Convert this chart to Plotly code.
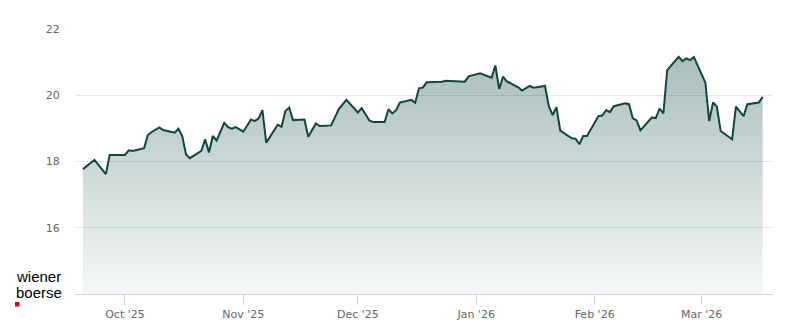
import plotly.graph_objects as go

dates = [
    "2025-09-20", "2025-09-23", "2025-09-26", "2025-09-27", "2025-10-01", "2025-10-02",
    "2025-10-03", "2025-10-06", "2025-10-07", "2025-10-08", "2025-10-10", "2025-10-11",
    "2025-10-14", "2025-10-15", "2025-10-16", "2025-10-17", "2025-10-18", "2025-10-21",
    "2025-10-22", "2025-10-23", "2025-10-24", "2025-10-25", "2025-10-27", "2025-10-28",
    "2025-10-29", "2025-10-30", "2025-11-01", "2025-11-03", "2025-11-04", "2025-11-05",
    "2025-11-06", "2025-11-07", "2025-11-10", "2025-11-11", "2025-11-12", "2025-11-13",
    "2025-11-14", "2025-11-17", "2025-11-18", "2025-11-20", "2025-11-21", "2025-11-24",
    "2025-11-26", "2025-11-28", "2025-12-01", "2025-12-02", "2025-12-04", "2025-12-05",
    "2025-12-08", "2025-12-09", "2025-12-10", "2025-12-11", "2025-12-12", "2025-12-15",
    "2025-12-16", "2025-12-17", "2025-12-18", "2025-12-19", "2025-12-23", "2025-12-24",
    "2025-12-29", "2025-12-30", "2026-01-02", "2026-01-05", "2026-01-06", "2026-01-07",
    "2026-01-08", "2026-01-09", "2026-01-12", "2026-01-13", "2026-01-15", "2026-01-16",
    "2026-01-19", "2026-01-20", "2026-01-21", "2026-01-22", "2026-01-23", "2026-01-26",
    "2026-01-27", "2026-01-28", "2026-01-29", "2026-01-30", "2026-02-02", "2026-02-03",
    "2026-02-04", "2026-02-05", "2026-02-06", "2026-02-09", "2026-02-10", "2026-02-11",
    "2026-02-12", "2026-02-13", "2026-02-16", "2026-02-17", "2026-02-18", "2026-02-19",
    "2026-02-20", "2026-02-23", "2026-02-24", "2026-02-25", "2026-02-26", "2026-02-27",
    "2026-03-02", "2026-03-03", "2026-03-04", "2026-03-05", "2026-03-06", "2026-03-09",
    "2026-03-10", "2026-03-12", "2026-03-13", "2026-03-16", "2026-03-17",
]

prices = [
    17.77, 18.05, 17.62, 18.20, 18.20, 18.34,
    18.32, 18.40, 18.80, 18.89, 19.03, 18.95,
    18.87, 18.99, 18.77, 18.21, 18.10, 18.32,
    18.67, 18.27, 18.77, 18.63, 19.17, 19.04,
    18.99, 19.04, 18.90, 19.27, 19.22, 19.30,
    19.55, 18.57, 19.11, 19.05, 19.52, 19.63,
    19.25, 19.27, 18.75, 19.15, 19.07, 19.09,
    19.58, 19.86, 19.48, 19.61, 19.24, 19.19,
    19.19, 19.58, 19.45, 19.55, 19.78, 19.86,
    19.77, 20.21, 20.23, 20.39, 20.41, 20.44,
    20.41, 20.57, 20.66, 20.53, 20.90, 20.19,
    20.56, 20.42, 20.24, 20.14, 20.28, 20.23,
    20.28, 19.67, 19.40, 19.64, 18.93, 18.70,
    18.69, 18.52, 18.77, 18.77, 19.37, 19.39,
    19.55, 19.49, 19.67, 19.76, 19.73, 19.30,
    19.24, 18.94, 19.33, 19.31, 19.60, 19.45,
    20.76, 21.16, 21.03, 21.11, 21.06, 21.15,
    20.38, 19.22, 19.78, 19.66, 18.92, 18.67,
    19.66, 19.37, 19.73, 19.78, 19.95,
]

y_ticks = [16, 18, 20, 22]
y_range = [14, 22]
x_range = ["2025-09-17 22:00", "2026-03-19 17:00"]

line_color = "#0e4640"

fig = go.Figure()
fig.add_trace(go.Scatter(
    x=dates, y=prices, mode="lines",
    line=dict(color=line_color, width=2),
    fill="tozeroy",
    fillgradient=dict(
        type="vertical",
        start=y_range[0], stop=max(prices),
        colorscale=[[0, "rgba(15,74,68,0.04)"], [1, "rgba(15,74,68,0.36)"]],
    ),
    hoverinfo="x+y",
    showlegend=False,
))

logo_font = dict(family="Liberation Sans", size=15, color="#000000")

fig.update_layout(
    width=800, height=324,
    margin=dict(l=75, r=27, t=29, b=30, autoexpand=False),
    paper_bgcolor="white", plot_bgcolor="white",
    font=dict(family="DejaVu Sans", size=11, color="#666666"),
    xaxis=dict(
        type="date", range=x_range, automargin=False,
        tick0="2025-10-01", dtick="M1", tickformat="%b '%y",
        ticks="outside", ticklen=10, tickcolor="#ccd6eb", tickwidth=1,
        showgrid=False, showline=True, linecolor="#ccd6eb", linewidth=1,
        zeroline=False, tickfont=dict(size=11, color="#666666"),
    ),
    yaxis=dict(
        range=y_range, tickvals=y_ticks, automargin=False,
        showgrid=True, gridcolor="#e6e6e6", gridwidth=1,
        ticks="outside", ticklen=12, tickcolor="rgba(0,0,0,0)",
        zeroline=False, showline=False,
        tickfont=dict(size=11, color="#666666"),
    ),
    annotations=[
        dict(text="wiener", xref="paper", yref="paper", x=0, y=0,
             xshift=-61, yshift=17.5, xanchor="left", yanchor="middle",
             height=15, valign="middle",
             showarrow=False, font=logo_font),
        dict(text="boerse", xref="paper", yref="paper", x=0, y=0,
             xshift=-61, yshift=1.5, xanchor="left", yanchor="middle",
             height=15, valign="middle",
             showarrow=False, font=logo_font),
    ],
    shapes=[
        dict(type="rect", xref="paper", yref="paper",
             xsizemode="pixel", ysizemode="pixel", xanchor=0, yanchor=0,
             x0=-60, x1=-55.5, y0=-8, y1=-12.5,
             line=dict(width=0), fillcolor="#d0021b"),
    ],
)

fig.write_html("out.html")
